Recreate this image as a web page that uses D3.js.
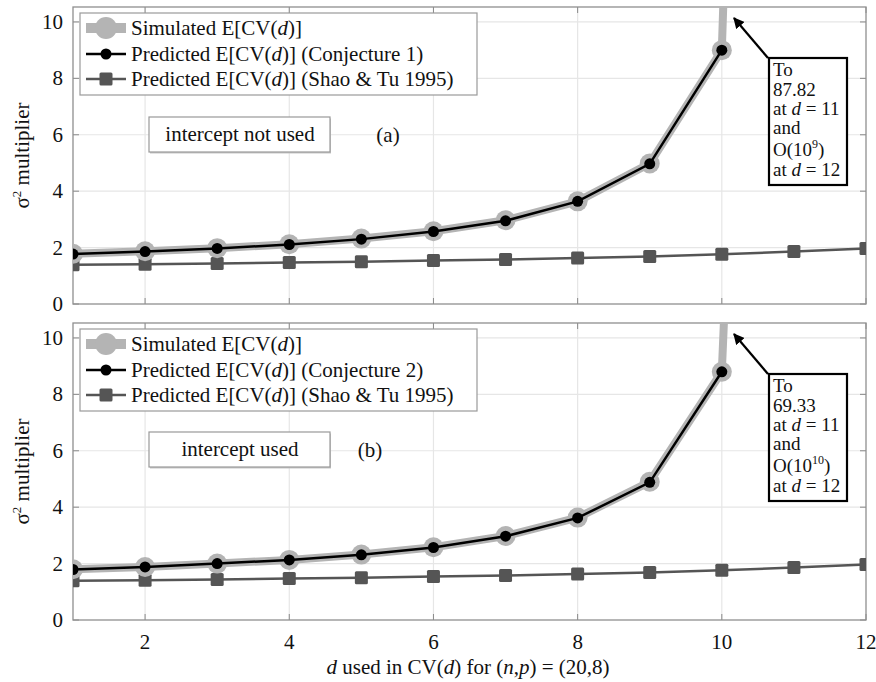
<!DOCTYPE html>
<html>
<head>
<meta charset="utf-8">
<script src="https://cdn.jsdelivr.net/npm/d3@7"></script>
<style>
  body { margin: 0; background: #fff; }
  svg text { font-family: "Liberation Serif", "Times New Roman", serif; fill: #111; }
</style>
</head>
<body>
<svg id="chart" width="876" height="682"></svg>
<script>
// values
const dValues = [1, 2, 3, 4, 5, 6, 7, 8, 9, 10, 11, 12];
const simulatedA = [1.78, 1.87, 1.98, 2.12, 2.32, 2.58, 2.97, 3.64, 4.98, 9.0, 87.82];
const conjecture1 = [1.77, 1.86, 1.97, 2.11, 2.3, 2.57, 2.95, 3.64, 4.97, 9.0];
const simulatedB = [1.8, 1.88, 2.0, 2.13, 2.32, 2.58, 2.98, 3.63, 4.9, 8.8, 69.33];
const conjecture2 = [1.79, 1.88, 2.0, 2.13, 2.31, 2.57, 2.97, 3.62, 4.88, 8.8];
const shaoTu = [1.39, 1.41, 1.44, 1.47, 1.5, 1.54, 1.58, 1.63, 1.68, 1.76, 1.86, 1.97];
const xTicks = [2, 4, 6, 8, 10, 12];
const yTicks = [0, 2, 4, 6, 8, 10];

const panels = [
  { top: 7, sim: simulatedA, pred: conjecture1, predName: "Conjecture 1",
    boxText: "intercept not used", tag: "(a)", tagX: 388,
    note: ["To", "87.82", "at d = 11", "and", ["O(10", "9", ")"], "at d = 12"] },
  { top: 323, sim: simulatedB, pred: conjecture2, predName: "Conjecture 2",
    boxText: "intercept used", tag: "(b)", tagX: 370,
    note: ["To", "69.33", "at d = 11", "and", ["O(10", "10", ")"], "at d = 12"] }
];

const svg = d3.select("#chart");
const left = 73, right = 866, plotH = 297;
const fs = 21;
const x = d3.scaleLinear().domain([1, 12]).range([left, right]);

svg.append("defs").append("marker")
  .attr("id", "arrow")
  .attr("viewBox", "0 0 10 10")
  .attr("refX", 9).attr("refY", 5)
  .attr("markerWidth", 5).attr("markerHeight", 5)
  .attr("markerUnits", "strokeWidth")
  .attr("orient", "auto")
  .append("path").attr("d", "M0,0 L10,5 L0,10 z").attr("fill", "#000");

// writes "... E[CV(d)] ..." with the d in italics
function cvText(sel, before, after) {
  sel.append("tspan").text(before + "E[CV(");
  sel.append("tspan").attr("font-style", "italic").text("d");
  sel.append("tspan").text(")]" + after);
}

panels.forEach((p, i) => {
  const bottom = p.top + plotH;
  const y = d3.scaleLinear().domain([0, 10.53]).range([bottom, p.top]);
  const g = svg.append("g");

  // grid
  g.selectAll(".vg").data(xTicks.slice(0, -1)).enter().append("line")
    .attr("x1", d => x(d)).attr("x2", d => x(d))
    .attr("y1", p.top).attr("y2", bottom)
    .attr("stroke", "#e6e6e6").attr("stroke-width", 1.2);
  g.selectAll(".hg").data(yTicks.slice(1)).enter().append("line")
    .attr("x1", left).attr("x2", right)
    .attr("y1", d => y(d)).attr("y2", d => y(d))
    .attr("stroke", "#e6e6e6").attr("stroke-width", 1.2);

  // ticks on all four sides, pointing inwards
  const tickCol = "#8a8a8a";
  xTicks.forEach(t => {
    g.append("line").attr("x1", x(t)).attr("x2", x(t)).attr("y1", bottom).attr("y2", bottom - 6).attr("stroke", tickCol);
    g.append("line").attr("x1", x(t)).attr("x2", x(t)).attr("y1", p.top).attr("y2", p.top + 6).attr("stroke", tickCol);
  });
  yTicks.forEach(t => {
    g.append("line").attr("x1", left).attr("x2", left + 6).attr("y1", y(t)).attr("y2", y(t)).attr("stroke", tickCol);
    g.append("line").attr("x1", right).attr("x2", right - 6).attr("y1", y(t)).attr("y2", y(t)).attr("stroke", tickCol);
  });

  g.append("rect")
    .attr("x", left).attr("y", p.top).attr("width", right - left).attr("height", plotH)
    .attr("fill", "none").attr("stroke", "#8f8f8f").attr("stroke-width", 1.3);

  // y tick labels
  g.selectAll(".yl").data(yTicks).enter().append("text")
    .attr("x", 63).attr("y", d => y(d) + 7)
    .attr("text-anchor", "end").attr("font-size", fs)
    .text(d => d);

  // y label
  const yl = g.append("text")
    .attr("transform", `translate(29,${p.top + plotH / 2}) rotate(-90)`)
    .attr("text-anchor", "middle").attr("font-size", fs);
  yl.append("tspan").text("σ");
  yl.append("tspan").attr("font-size", 13).attr("dy", -8).text("2");
  yl.append("tspan").attr("dy", 8).text(" multiplier");

  // series
  const clipId = "clip" + i;
  g.append("clipPath").attr("id", clipId).append("rect")
    .attr("x", left).attr("y", p.top).attr("width", right - left).attr("height", plotH);
  const plot = g.append("g").attr("clip-path", `url(#${clipId})`);
  const line = d3.line().x((d, j) => x(dValues[j])).y(d => y(d));

  plot.append("path").datum(shaoTu).attr("d", line)
    .attr("fill", "none").attr("stroke", "#555").attr("stroke-width", 2.5);
  plot.selectAll(".sq").data(shaoTu).enter().append("rect")
    .attr("x", (d, j) => x(dValues[j]) - 6.5).attr("y", d => y(d) - 6.5)
    .attr("width", 13).attr("height", 13).attr("rx", 1.5)
    .attr("fill", "#555");

  plot.append("path").datum(p.sim).attr("d", line)
    .attr("fill", "none").attr("stroke", "#b4b4b4").attr("stroke-width", 8)
    .attr("stroke-linejoin", "round");
  plot.selectAll(".sc").data(p.sim.slice(0, 10)).enter().append("circle")
    .attr("cx", (d, j) => x(dValues[j])).attr("cy", d => y(d)).attr("r", 10)
    .attr("fill", "#b4b4b4");

  plot.append("path").datum(p.pred).attr("d", line)
    .attr("fill", "none").attr("stroke", "#000").attr("stroke-width", 2.5);
  plot.selectAll(".pc").data(p.pred).enter().append("circle")
    .attr("cx", (d, j) => x(dValues[j])).attr("cy", d => y(d)).attr("r", 5.5)
    .attr("fill", "#000");

  // legend
  const lg = g.append("g");
  lg.append("rect").attr("x", 80).attr("y", p.top + 6).attr("width", 397).attr("height", 82)
    .attr("fill", "#fff").attr("stroke", "#9a9a9a").attr("stroke-width", 1.2);
  const rows = [p.top + 21, p.top + 47, p.top + 72];
  lg.append("line").attr("x1", 86).attr("x2", 126).attr("y1", rows[0]).attr("y2", rows[0])
    .attr("stroke", "#b4b4b4").attr("stroke-width", 10);
  lg.append("circle").attr("cx", 106).attr("cy", rows[0]).attr("r", 11).attr("fill", "#b4b4b4");
  lg.append("line").attr("x1", 86).attr("x2", 126).attr("y1", rows[1]).attr("y2", rows[1])
    .attr("stroke", "#000").attr("stroke-width", 2.5);
  lg.append("circle").attr("cx", 106).attr("cy", rows[1]).attr("r", 5.5).attr("fill", "#000");
  lg.append("line").attr("x1", 86).attr("x2", 126).attr("y1", rows[2]).attr("y2", rows[2])
    .attr("stroke", "#555").attr("stroke-width", 2.5);
  lg.append("rect").attr("x", 99.5).attr("y", rows[2] - 6.5).attr("width", 13).attr("height", 13)
    .attr("rx", 1.5).attr("fill", "#555");

  const lt = (row) => lg.append("text").attr("x", 131).attr("y", row + 7).attr("font-size", fs);
  cvText(lt(rows[0]), "Simulated ", "");
  cvText(lt(rows[1]), "Predicted ", " (" + p.predName + ")");
  cvText(lt(rows[2]), "Predicted ", " (Shao & Tu 1995)");

  // "intercept" box and panel tag
  const by = p.top + 110 - (i ? 1 : 0);
  g.append("rect").attr("x", 150).attr("y", by + 1.5).attr("width", 181).attr("height", 35)
    .attr("fill", "#c8c8c8");
  g.append("rect").attr("x", 149).attr("y", by).attr("width", 181).attr("height", 35)
    .attr("fill", "#fff").attr("stroke", "#999").attr("stroke-width", 1.2);
  g.append("text").attr("x", 240).attr("y", by + 24).attr("text-anchor", "middle")
    .attr("font-size", fs).text(p.boxText);
  g.append("text").attr("x", p.tagX).attr("y", by + 25).attr("text-anchor", "middle")
    .attr("font-size", fs).text(p.tag);

  // annotation box with arrow
  const ny = p.top + 51;
  g.append("line").attr("x1", 768).attr("y1", ny).attr("x2", 734).attr("y2", p.top + 11)
    .attr("stroke", "#000").attr("stroke-width", 2.2).attr("marker-end", "url(#arrow)");
  g.append("rect").attr("x", 769).attr("y", ny).attr("width", 78).attr("height", 127)
    .attr("fill", "#fff").attr("stroke", "#000").attr("stroke-width", 2.2);
  const lineY = [18, 38, 57, 76, 98, 118];
  p.note.forEach((t, k) => {
    const tx = g.append("text").attr("x", 773).attr("y", ny + lineY[k]).attr("font-size", 19);
    if (Array.isArray(t)) {
      tx.append("tspan").text(t[0]);
      tx.append("tspan").attr("font-size", 12).attr("dy", -8).text(t[1]);
      tx.append("tspan").attr("dy", 8).text(t[2]);
    } else if (t.indexOf(" d ") >= 0) {
      const parts = t.split(" d ");
      tx.append("tspan").text(parts[0] + " ");
      tx.append("tspan").attr("font-style", "italic").text("d");
      tx.append("tspan").text(" " + parts[1]);
    } else {
      tx.text(t);
    }
  });

  // x tick labels only under the last panel
  if (i === panels.length - 1) {
    g.selectAll(".xl").data(xTicks).enter().append("text")
      .attr("x", d => x(d)).attr("y", bottom + 29)
      .attr("text-anchor", "middle").attr("font-size", fs)
      .text(d => d);
  }
});

// x label
const xl = svg.append("text").attr("x", 468).attr("y", 674)
  .attr("text-anchor", "middle").attr("font-size", fs);
xl.append("tspan").attr("font-style", "italic").text("d");
xl.append("tspan").text(" used in CV(");
xl.append("tspan").attr("font-style", "italic").text("d");
xl.append("tspan").text(") for (");
xl.append("tspan").attr("font-style", "italic").text("n");
xl.append("tspan").text(",");
xl.append("tspan").attr("font-style", "italic").text("p");
xl.append("tspan").text(") = (20,8)");
</script>
</body>
</html>
